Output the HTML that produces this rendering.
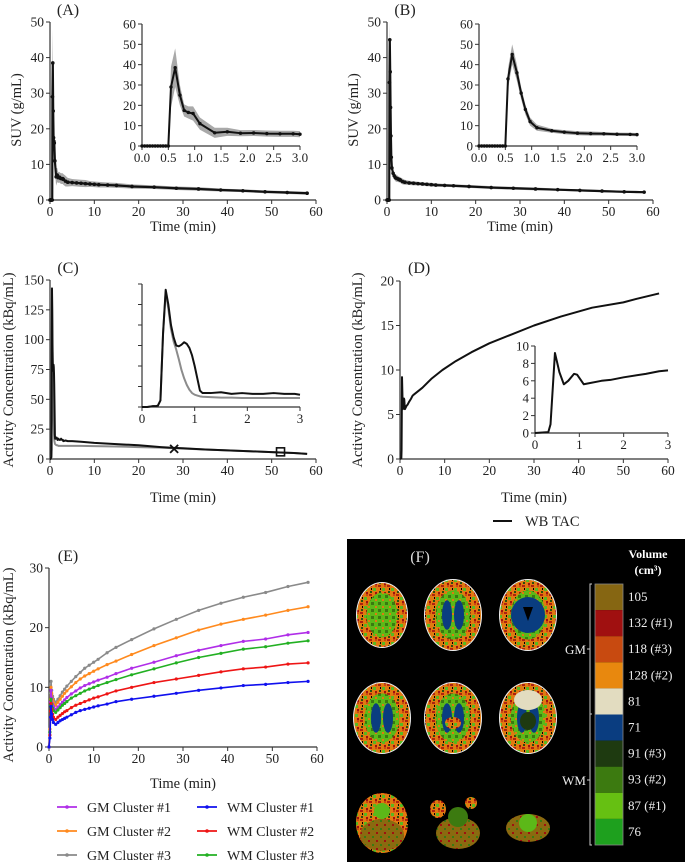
<!DOCTYPE html>
<html><head><meta charset="utf-8">
<style>
html,body{margin:0;padding:0;background:#fff;}
svg{display:block;font-family:"Liberation Serif",serif;}
</style></head>
<body>
<svg id="fig" width="685" height="862" viewBox="0 0 685 862" xmlns="http://www.w3.org/2000/svg">
<defs>
<pattern id="brainTex" width="9" height="9" patternUnits="userSpaceOnUse">
<rect width="9" height="9" fill="#e07a10"/>
<rect x="0" y="0" width="3" height="2" fill="#b02010"/>
<rect x="4" y="3" width="3" height="3" fill="#5ab820"/>
<rect x="1" y="6" width="2" height="2" fill="#2a5010"/>
<rect x="6" y="0" width="2" height="2" fill="#c84a10"/>
<rect x="6" y="7" width="2" height="2" fill="#a01010"/>
<rect x="2" y="3" width="1" height="2" fill="#000"/>
</pattern>
<pattern id="greenTex" width="7" height="7" patternUnits="userSpaceOnUse">
<rect width="7" height="7" fill="#5cb818"/>
<rect x="0" y="0" width="3" height="3" fill="#3a7a10"/>
<rect x="4" y="4" width="2" height="2" fill="#e07a10"/>
</pattern>
<pattern id="cerebTex" width="8" height="8" patternUnits="userSpaceOnUse">
<rect width="8" height="8" fill="#8a6a10"/>
<rect x="0" y="0" width="2" height="2" fill="#a01010"/>
<rect x="4" y="4" width="2" height="2" fill="#3a7a10"/>
</pattern>
</defs>
<g id="root"></g>
</svg>
<script>
// ---------- DATA ----------
const aT = [0,0.05,0.1,0.15,0.2,0.25,0.3,0.35,0.4,0.45,0.5,0.55,0.63,0.72,0.8,0.88,0.97,1.1,1.38,1.62,1.87,2.12,2.37,2.62,2.87,3.0,3.5,4,5,6,7,8,9,10,11,13,15,18.5,23.5,28.5,33.5,38.5,43.5,48.5,53.5,58];
const aY = [0,0,0,0,0,0,0,0,0,0,0,29,38.5,25,17.5,16.5,16,11,6.5,7,6.3,6.4,6.1,6,6,5.8,5.3,5,4.9,4.8,4.7,4.6,4.5,4.4,4.3,4.2,4.1,3.8,3.6,3.3,3.1,2.8,2.6,2.3,2.1,1.9];
const aErr = [0,0,0,0,0,0,0,0,0,0,0,10,9.5,5,3,3,3.5,3,2.5,2,1.5,1.5,1.5,1.5,1.5,1.5,1.5,1.2,1,1,1,1,0.8,0.8,0.8,0.7,0.7,0.6,0.5,0.5,0.5,0.4,0.4,0.4,0.4,0.4];
const bY = [0,0,0,0,0,0,0,0,0,0,0,33,45,36,26,18,12,9,7.5,6.8,6.3,6.1,6,5.8,5.7,5.6,5.2,5,4.8,4.7,4.6,4.5,4.4,4.3,4.2,4.1,4,3.8,3.5,3.3,3.1,2.9,2.7,2.5,2.3,2.2];
const bErr = [0,0,0,0,0,0,0,0,0,0,0,5,5,4,3,2.5,2,1.5,1,1,1,1,0.9,0.8,0.8,0.8,0.8,0.7,0.6,0.6,0.5,0.5,0.5,0.5,0.5,0.4,0.4,0.4,0.4,0.4,0.4,0.3,0.3,0.3,0.3,0.3];
const cT = [0,0.1,0.2,0.25,0.3,0.35,0.4,0.45,0.5,0.55,0.6,0.65,0.7,0.75,0.8,0.85,0.9,0.95,1.0,1.05,1.1,1.15,1.3,1.5,1.7,1.9,2.1,2.3,2.5,2.7,2.9,3.0,3.5,4,5,7,10,15,20,25,28,30,35,40,45,50,52,55,58];
const cBlack = [0,0,1,1,1.5,8,90,143,125,100,85,75,74,76,79,77,72,63,50,35,20,17,17,18,16,17,16,16,17,16,16,15,15.5,15,15,14.5,13.5,12.5,11.5,10,9.3,9,8,7.2,6.5,5.8,5.5,5,4.3];
const cGray = [0,0,1,1,1.5,8,90,140,120,95,80,70,58,45,35,27,21,17,15,14,13,12.5,12,11.5,11.5,11,11,11,11,11,11,11,11,11,11,11,10.8,10.5,10,9.5,9,8.7,8,7.2,6.5,5.8,5.5,5,4.3];
const cMarkX = [28, 8.5];
const cMarkSq = [52, 6];
const dT = [0,0.3,0.35,0.45,0.55,0.65,0.75,0.88,0.95,1.1,1.5,1.7,2,2.5,2.8,3,5,7,9.5,12.5,16,20,25,30,36,43,50,53,58];
const dY = [0,0.1,1,9.2,7,5.6,6,6.8,6.7,5.6,6,6.1,6.4,6.8,7.1,7.2,8,9,10,11,12,13,14,15,16,17,17.6,18,18.6];
const eT = [0,0.2,0.35,0.45,0.6,0.8,1,1.5,2,2.5,3,3.5,4,5,6,7,8,9,10,11,13,15,18.5,23.5,28.5,33.5,38.5,43.5,48.5,53.5,58];
const eGM1 = [0,2.5,7.5,9.5,8.2,7.2,6.8,6.3,6.7,7.1,7.5,7.9,8.3,8.9,9.4,9.9,10.3,10.6,10.9,11.2,11.7,12.3,13.2,14.2,15.3,16.2,17,17.7,18.1,18.8,19.2];
const eGM2 = [0,3,8,10,9,8,7.4,7,7.5,8,8.5,9,9.4,10.1,10.8,11.4,11.9,12.3,12.7,13.1,13.8,14.4,15.5,17,18.3,19.6,20.6,21.4,22.1,22.9,23.5];
const eGM3 = [0,3,9,11,9.5,8.5,8,7.5,8,8.6,9.2,9.7,10.2,11,11.8,12.5,13.2,13.7,14.2,14.7,15.8,16.7,18,19.8,21.4,22.9,24.1,25.1,25.9,26.9,27.6];
const eWM1 = [0,1.5,5,6.8,5.5,4.6,4.1,3.8,4.1,4.4,4.6,4.8,5,5.4,5.8,6.1,6.3,6.5,6.7,6.9,7.2,7.6,8,8.5,9,9.5,9.9,10.3,10.5,10.8,11];
const eWM2 = [0,2,6,7.3,6.3,5.5,5,4.6,5,5.3,5.6,5.9,6.1,6.6,7,7.3,7.6,7.9,8.2,8.4,8.9,9.4,10,10.8,11.4,12,12.6,13.1,13.4,13.9,14.1];
const eWM3 = [0,2.5,7,8,7.2,6.5,6.1,5.8,6.2,6.6,7,7.3,7.6,8.2,8.6,9,9.4,9.7,10,10.3,10.8,11.3,12.1,13.1,14.1,15,15.7,16.4,16.8,17.4,17.8];
const legendNames = ["GM Cluster #1","GM Cluster #2","GM Cluster #3","WM Cluster #1","WM Cluster #2","WM Cluster #3"];
const volLabels = ["105","132 (#1)","118 (#3)","128 (#2)","81","71","91 (#3)","93 (#2)","87 (#1)","76"];
const ticks60 = [0,10,20,30,40,50,60];

// ---------- HELPERS ----------
const NS = "http://www.w3.org/2000/svg";
const root = document.getElementById('root');
function mk(tag, attrs, parent){ const e=document.createElementNS(NS,tag); for(const k in attrs) e.setAttribute(k,attrs[k]); (parent||root).appendChild(e); return e; }
function lin(d0,d1,r0,r1){ return v => r0+(v-d0)*(r1-r0)/(d1-d0); }
function txt(x,y,s,size,anchor,name,extra){
  const e=mk('text',Object.assign({x:x,y:y,'font-size':size,'text-anchor':anchor||'middle',fill:'#222'},extra||{}));
  e.textContent=s;
  
  
  return e;
}
function axes(p, sx, sy, xt, yt, xfmt, yfmt, fs){
  const [x0,x1]=[sx(xt[0]),sx(xt[xt.length-1])];
  const [y0,y1]=[sy(yt[0]),sy(yt[yt.length-1])];
  const xa=mk('line',{x1:x0,x2:x1,y1:y0,y2:y0,stroke:'#333','stroke-width':1.2});
  
  
  const ya=mk('line',{x1:x0,x2:x0,y1:y0,y2:y1,stroke:'#333','stroke-width':1.2});
  
  
  xt.forEach(v=>{
    const t=mk('line',{x1:sx(v),x2:sx(v),y1:y0,y2:y0+4,stroke:'#333','stroke-width':1});
    
    
    if(xfmt) txt(sx(v),y0+16,xfmt(v),fs,'middle',p+'-x-tick-label');
  });
  yt.forEach(v=>{
    const t=mk('line',{x1:x0-4,x2:x0,y1:sy(v),y2:sy(v),stroke:'#333','stroke-width':1});
    
    
    if(yfmt) txt(x0-6,sy(v)+4.5,yfmt(v),fs,'end',p+'-y-tick-label');
  });
}
function path(xs,ys,sx,sy,stroke,w,name,maxX){
  let d='';
  xs.forEach((x,i)=>{ if(maxX!==undefined && x>maxX) return; d+=(d?'L':'M')+sx(x).toFixed(2)+','+sy(ys[i]).toFixed(2); });
  const e=mk('path',{d:d,fill:'none',stroke:stroke,'stroke-width':w,'stroke-linejoin':'round'});
  
  
  return e;
}
function band(xs,ys,err,sx,sy,name,maxX){
  let up=[],lo=[];
  xs.forEach((x,i)=>{ if(maxX!==undefined && x>maxX) return; up.push(sx(x).toFixed(2)+','+sy(ys[i]+err[i]).toFixed(2)); lo.push(sx(x).toFixed(2)+','+sy(Math.max(0,ys[i]-err[i])).toFixed(2)); });
  const e=mk('polygon',{points:up.concat(lo.reverse()).join(' '),fill:'#9a9a9a',opacity:0.85});
  
  
}
function dots(xs,ys,sx,sy,color,r,name,maxX){
  xs.forEach((x,i)=>{ if(maxX!==undefined && x>maxX) return;
    const c=mk('circle',{cx:sx(x),cy:sy(ys[i]),r:r,fill:color});
    
    
  });
}
function ytitle(x,cy,s,name){ txt(x,cy,s,14.5,'middle',name,{transform:'rotate(-90 '+x+' '+cy+')'}); }
const f0=v=>String(v), f1=v=>v.toFixed(1);

// ---------- PANEL A / B ----------
function suvPanel(p, off, Y, E, label){
  const sx=lin(0,60,50+off,316+off), sy=lin(0,50,200,22);
  axes(p,sx,sy,ticks60,[0,10,20,30,40,50],f0,f0,13.5);
  band(aT,Y,E,sx,sy,p+'-main-band');
  path(aT,Y,sx,sy,'#111',2.2,p+'-main-line');
  dots(aT,Y,sx,sy,'#111',1.8,p+'-main-point');
  const ix=lin(0,3,142+off,300+off), iy=lin(0,60,146,24);
  axes(p+'-inset',ix,iy,[0,0.5,1,1.5,2,2.5,3],[0,10,20,30,40,50,60],f1,f0,13);
  band(aT,Y,E,ix,iy,p+'-inset-band',3);
  path(aT,Y,ix,iy,'#111',2,p+'-inset-line',3);
  dots(aT,Y,ix,iy,'#111',1.7,p+'-inset-point',3);
  txt(68+off,15,label,16,'middle',p+'-panel-label');
  txt(183+off,231,'Time (min)',14.5,'middle',p+'-x-axis-title');
  ytitle(21+off,110,'SUV (g/mL)',p+'-y-axis-title');
}
suvPanel('panel-a',0,aY,aErr,'(A)');
suvPanel('panel-b',337,bY,bErr,'(B)');

// ---------- PANEL C ----------
(function(){
  const sx=lin(0,60,50,316), sy=lin(0,150,459,280);
  axes('panel-c',sx,sy,ticks60,[0,25,50,75,100,125,150],f0,f0,13.5);
  path(cT,cGray,sx,sy,'#8c8c8c',2,'panel-c-gray-line');
  path(cT,cBlack,sx,sy,'#111',2,'panel-c-black-line');
  const mx=sx(cMarkX[0]), my=sy(cMarkX[1]);
  const m1=mk('path',{d:`M${mx-4},${my-4}L${mx+4},${my+4}M${mx-4},${my+4}L${mx+4},${my-4}`,stroke:'#111','stroke-width':1.8,fill:'none'});
  
  
  const m2=mk('rect',{x:sx(cMarkSq[0])-4,y:sy(cMarkSq[1])-4,width:8,height:8,fill:'none',stroke:'#111','stroke-width':1.6});
  
  
  const ix=lin(0,3,142,300), iy=lin(0,150,407,284);
  axes('panel-c-inset',ix,iy,[0,1,2,3],[0,25,50,75,100,125,150],f0,null,13);
  path(cT,cGray,ix,iy,'#8c8c8c',2,'panel-c-inset-gray-line',3);
  path(cT,cBlack,ix,iy,'#111',2,'panel-c-inset-black-line',3);
  txt(68,273,'(C)',16,'middle','panel-c-panel-label');
  txt(183,502,'Time (min)',14.5,'middle','panel-c-x-axis-title');
  ytitle(13,370,'Activity Concentration (kBq/mL)','panel-c-y-axis-title');
})();

// ---------- PANEL D ----------
(function(){
  const sx=lin(0,60,400,668), sy=lin(0,20,459,281);
  axes('panel-d',sx,sy,ticks60,[0,5,10,15,20],f0,f0,13.5);
  path(dT,dY,sx,sy,'#111',2,'panel-d-wb-tac-line');
  const ix=lin(0,3,535,668), iy=lin(0,10,433,346);
  axes('panel-d-inset',ix,iy,[0,1,2,3],[0,2,4,6,8,10],f0,f0,13);
  path(dT,dY,ix,iy,'#111',2,'panel-d-inset-line',3);
  txt(408,273,'(D)',16,'middle','panel-d-panel-label').setAttribute('text-anchor','start');
  txt(534,502,'Time (min)',14.5,'middle','panel-d-x-axis-title');
  ytitle(362,370,'Activity Concentration (kBq/mL)','panel-d-y-axis-title');
  const l=mk('line',{x1:493,x2:512,y1:521,y2:521,stroke:'#111','stroke-width':2});
  
  
  txt(525,526,'WB TAC',14.5,'start','legend-wb-tac-label');
})();

// ---------- PANEL E ----------
(function(){
  const sx=lin(0,60,49,317), sy=lin(0,30,747,568);
  axes('panel-e',sx,sy,ticks60,[0,10,20,30],f0,f0,13.5);
  const series=[eGM1,eGM2,eGM3,eWM1,eWM2,eWM3];
  const cols=['#b02ee8','#ff8a1e','#8a8a8a','#1010ee','#ee1515','#22b022'];
  const order=[2,1,0,5,4,3];
  order.forEach(i=>{
    path(eT,series[i],sx,sy,cols[i],1.6,'panel-e-series-'+(i+1));
    dots(eT,series[i],sx,sy,cols[i],1.6,'panel-e-point-'+(i+1));
  });
  txt(68,561,'(E)',16,'middle','panel-e-panel-label');
  txt(183,788,'Time (min)',14.5,'middle','panel-e-x-axis-title');
  ytitle(13,665,'Activity Concentration (kBq/mL)','panel-e-y-axis-title');
  legendNames.forEach((n,i)=>{
    const col=i<3?0:1, row=i%3;
    const lx=col?197:57, ly=807+row*24;
    const l=mk('line',{x1:lx,x2:lx+20,y1:ly,y2:ly,stroke:cols[i],'stroke-width':1.8});
    
    
    const c=mk('circle',{cx:lx+10,cy:ly,r:1.8,fill:cols[i]});
    
    
    txt(lx+30,ly+5,n,14,'start','legend-label');
  });
})();

// ---------- PANEL F ----------
(function(){
  const bg=mk('rect',{x:347,y:539,width:338,height:323,fill:'#000'});
  
  
  txt(420,562,'(F)',16,'middle','panel-f-panel-label',{fill:'#ddd'});
  txt(648,558,'Volume',12,'middle','volume-title',{fill:'#fff','font-weight':'bold'});
  txt(648,574,'(cm³)',12,'middle','volume-unit',{fill:'#fff','font-weight':'bold'});
  const volCols=['#866612','#a01010','#c84a10','#e8880e','#e2dcc0','#0a3d80','#1e3a10','#3c7a10','#66c012','#1ea01e'];
  volCols.forEach((c,i)=>{
    const r=mk('rect',{x:595,y:584+i*26.1,width:28,height:26.1,fill:c});
    
    
    txt(628,601+i*26.1,volLabels[i],13,'start','colorbar-label',{fill:'#eee'});
  });
  const cb=mk('rect',{x:595,y:584,width:28,height:261,fill:'none',stroke:'#888','stroke-width':0.8});
  
  
  [[584,714,649,'GM'],[714,845,780,'WM']].forEach(b=>{
    const br=mk('path',{d:`M592,${b[0]}H590V${b[1]}H592M590,${b[2]}H587`,stroke:'#ccc',fill:'none','stroke-width':1});
    
    
    txt(586,b[2]+5,b[3],13,'end','bracket-label-'+b[3].toLowerCase(),{fill:'#eee'});
  });
  const cx=[382,453,528], cy=[615,718,823];
  for(let r=0;r<3;r++) for(let c=0;c<3;c++){
    const g=mk('g',{});
    
    
    const X=cx[c], Y=cy[r];
    if(r<2){
      const rx=r===0&&c===0?25:28, ry=r===0&&c===0?32:35;
      mk('ellipse',{cx:X,cy:Y,rx:rx+1,ry:ry+1,fill:'#eee'},g);
      mk('ellipse',{cx:X,cy:Y,rx:rx,ry:ry,fill:'url(#brainTex)'},g);
      mk('ellipse',{cx:X,cy:Y,rx:rx*0.62,ry:ry*0.7,fill:'url(#greenTex)'},g);
      if(!(r===0&&c===0)){
        mk('ellipse',{cx:X-6,cy:Y,rx:5,ry:ry*0.42,fill:'#0a3d80'},g);
        mk('ellipse',{cx:X+6,cy:Y,rx:5,ry:ry*0.42,fill:'#0a3d80'},g);
        if(c===2&&r===0){ mk('ellipse',{cx:X,cy:Y,rx:17,ry:18,fill:'#0a3d80'},g); mk('path',{d:`M${X-5},${Y-8}L${X+5},${Y-8}L${X},${Y+6}Z`,fill:'#000'},g);}
        if(r===1&&c===1){ mk('ellipse',{cx:X,cy:Y+5,rx:8,ry:6,fill:'url(#brainTex)'},g);}
        if(r===1&&c===2){ mk('ellipse',{cx:X,cy:Y-18,rx:14,ry:10,fill:'#e2dcc0'},g); mk('ellipse',{cx:X,cy:Y+3,rx:8,ry:9,fill:'#1e3a10'},g);}
      }
    } else {
      if(c===0){ mk('ellipse',{cx:X,cy:Y,rx:26,ry:30,fill:'url(#brainTex)'},g); mk('ellipse',{cx:X,cy:Y+12,rx:22,ry:16,fill:'url(#cerebTex)'},g); mk('ellipse',{cx:X,cy:Y-12,rx:8,ry:8,fill:'#5cb818'},g);}
      if(c===1){ mk('ellipse',{cx:X+5,cy:Y+10,rx:22,ry:16,fill:'url(#cerebTex)'},g); mk('ellipse',{cx:X+5,cy:Y-6,rx:10,ry:10,fill:'#3c7a10'},g); mk('ellipse',{cx:X-15,cy:Y-14,rx:8,ry:9,fill:'url(#brainTex)'},g); mk('ellipse',{cx:X+18,cy:Y-20,rx:6,ry:6,fill:'url(#brainTex)'},g);}
      if(c===2){ mk('ellipse',{cx:X,cy:Y+5,rx:22,ry:14,fill:'url(#cerebTex)'},g); mk('ellipse',{cx:X,cy:Y,rx:9,ry:9,fill:'#5cb818'},g);}
    }
  }
})();
</script>
</body></html>
